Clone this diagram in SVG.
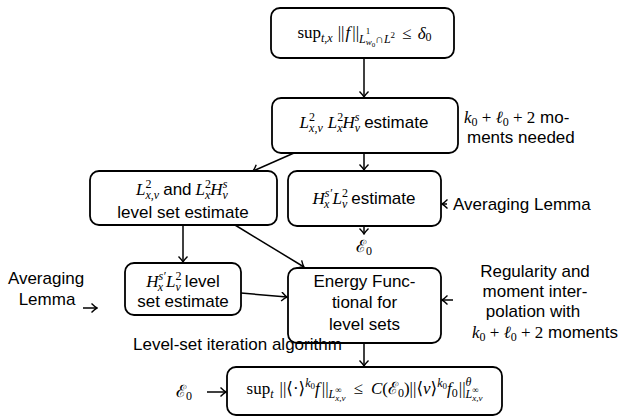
<svg xmlns="http://www.w3.org/2000/svg" width="624" height="420" viewBox="0 0 624 420">
<style>
.box{fill:#fff;stroke:#000;stroke-width:1.8}
.c{fill:none;stroke:#000;stroke-width:1.5}
.m{font-family:"Liberation Serif","DejaVu Serif",serif;font-size:17px;fill:#000}
.t{font-family:"Liberation Sans",Arial,sans-serif;font-size:17px;fill:#000}
.i{font-style:italic}
.s{font-size:12px}
.ss{font-size:9px}
</style>
<defs>
<marker id="ah" viewBox="-7 -5 8 10" markerWidth="8" markerHeight="10" refX="0" refY="0" orient="auto" markerUnits="userSpaceOnUse">
<path d="M-5.5,-4.5 Q-2,-1 0,0 Q-2,1 -5.5,4.5" fill="none" stroke="#000" stroke-width="1.4"/>
</marker>
</defs>
<g id="connectors">
<line class="c" x1="364" y1="58" x2="364" y2="97" marker-end="url(#ah)"/>
<line class="c" x1="364" y1="153" x2="364" y2="170" marker-end="url(#ah)"/>
<line class="c" x1="294" y1="153" x2="253" y2="171" marker-end="url(#ah)"/>
<line class="c" x1="364" y1="226" x2="364" y2="234" marker-end="url(#ah)"/>
<line class="c" x1="447" y1="204" x2="442" y2="204" marker-end="url(#ah)"/>
<line class="c" x1="183" y1="225" x2="183" y2="262" marker-end="url(#ah)"/>
<line class="c" x1="235" y1="225" x2="304" y2="267" marker-end="url(#ah)"/>
<line class="c" x1="241" y1="293" x2="287" y2="297" marker-end="url(#ah)"/>
<line class="c" x1="83" y1="308" x2="97" y2="308" marker-end="url(#ah)"/>
<line class="c" x1="453" y1="300" x2="442" y2="300" marker-end="url(#ah)"/>
<line class="c" x1="364" y1="343" x2="364" y2="366" marker-end="url(#ah)"/>
<line class="c" x1="207" y1="392" x2="226" y2="392" marker-end="url(#ah)"/>
</g>
<g id="n1">
<rect class="box" x="271" y="8" width="183" height="50" rx="9"/>
<text class="m" x="364.5" y="38" text-anchor="middle">sup<tspan class="s i" dy="4">t,x</tspan><tspan dx="5" dy="-4">||</tspan><tspan class="i" dx="1">f</tspan><tspan dx="2">||</tspan><tspan class="s i" dy="5">L</tspan><tspan class="ss" dy="-9">1</tspan><tspan class="ss i" dx="-4.5" dy="11">w</tspan><tspan style="font-size:7px" dy="2">0</tspan><tspan class="s" dy="-4">∩</tspan><tspan class="s i">L</tspan><tspan class="ss" dy="-5">2</tspan><tspan dx="7" dy="1">≤ </tspan><tspan class="i" dx="2">δ</tspan><tspan class="s" dy="2">0</tspan></text>
</g>
<g id="n2">
<rect class="box" x="272" y="98" width="186" height="55" rx="9"/>
<text class="m" x="364" y="128" text-anchor="middle"><tspan class="i">L</tspan><tspan class="s" dy="-7">2</tspan><tspan class="s i" dx="-6" dy="11">x,v</tspan><tspan class="i" dx="5" dy="-4">L</tspan><tspan class="s" dy="-7">2</tspan><tspan class="s i" dx="-6" dy="11">x</tspan><tspan class="i" dy="-4">H</tspan><tspan class="s i" dy="-7">s</tspan><tspan class="s i" dx="-4.7" dy="11">v</tspan><tspan class="t" dx="4" dy="-4">estimate</tspan></text>
</g>
<g id="note1">
<text class="m" x="464" y="123"><tspan class="i">k</tspan><tspan class="s" dy="3">0</tspan><tspan dy="-3"> + </tspan><tspan class="i">ℓ</tspan><tspan class="s" dy="3">0</tspan><tspan dy="-3"> + 2</tspan><tspan class="t"> mo-</tspan></text>
<text class="t" x="467" y="143">ments needed</text>
</g>
<g id="n3">
<rect class="box" x="90" y="171" width="187" height="54" rx="9"/>
<text class="m" x="182" y="195" text-anchor="middle"><tspan class="i">L</tspan><tspan class="s" dy="-7">2</tspan><tspan class="s i" dx="-6" dy="11">x,v</tspan><tspan class="t" dx="4" dy="-4">and</tspan><tspan class="i" dx="4">L</tspan><tspan class="s" dy="-7">2</tspan><tspan class="s i" dx="-6" dy="11">x</tspan><tspan class="i" dy="-4">H</tspan><tspan class="s i" dy="-7">s</tspan><tspan class="s i" dx="-4.7" dy="11">v</tspan></text>
<text class="t" x="183" y="218" text-anchor="middle">level set estimate</text>
</g>
<g id="n4">
<rect class="box" x="288" y="171" width="153" height="55" rx="9"/>
<text class="m" x="364" y="204" text-anchor="middle"><tspan class="i">H</tspan><tspan class="s i" dy="-7">s′</tspan><tspan class="s i" dx="-8" dy="11">x</tspan><tspan class="i" dx="3" dy="-4">L</tspan><tspan class="s" dy="-7">2</tspan><tspan class="s i" dx="-6" dy="11">v</tspan><tspan class="t" dx="4" dy="-4">estimate</tspan></text>
</g>
<g id="note2">
<text class="t" x="453" y="210">Averaging Lemma</text>
</g>
<g id="e1">
<text class="m" x="364" y="252" text-anchor="middle">ℰ<tspan class="s" dy="3">0</tspan></text>
</g>
<g id="n5">
<rect class="box" x="125" y="263" width="116" height="52" rx="9"/>
<text class="m" x="183" y="287" text-anchor="middle"><tspan class="i">H</tspan><tspan class="s i" dy="-7">s′</tspan><tspan class="s i" dx="-8" dy="11">x</tspan><tspan class="i" dx="3" dy="-4">L</tspan><tspan class="s" dy="-7">2</tspan><tspan class="s i" dx="-6" dy="11">v</tspan><tspan class="t" dx="4" dy="-4">level</tspan></text>
<text class="t" x="183" y="307" text-anchor="middle">set estimate</text>
</g>
<g id="note3">
<text class="t" x="46" y="284" text-anchor="middle">Averaging</text>
<text class="t" x="47" y="305" text-anchor="middle">Lemma</text>
</g>
<g id="n6">
<rect class="box" x="288" y="268" width="153" height="75" rx="9"/>
<text class="t" x="364.5" y="287" text-anchor="middle">Energy Func-</text>
<text class="t" x="364.5" y="308" text-anchor="middle">tional for</text>
<text class="t" x="364.5" y="330" text-anchor="middle">level sets</text>
</g>
<g id="note4">
<text class="t" x="535" y="277" text-anchor="middle">Regularity and</text>
<text class="t" x="535" y="297" text-anchor="middle">moment inter-</text>
<text class="t" x="533" y="317" text-anchor="middle">polation with</text>
<text class="m" x="472" y="338"><tspan class="i">k</tspan><tspan class="s" dy="3">0</tspan><tspan dy="-3"> + </tspan><tspan class="i">ℓ</tspan><tspan class="s" dy="3">0</tspan><tspan dy="-3"> + 2</tspan><tspan class="t"> moments</tspan></text>
</g>
<g id="note5">
<text class="t" x="133" y="350">Level-set iteration algorithm</text>
</g>
<g id="e2">
<text class="m" x="184" y="397" text-anchor="middle">ℰ<tspan class="s" dy="3">0</tspan></text>
</g>
<g id="n7">
<rect class="box" x="227" y="367" width="275" height="48" rx="9"/>
<text class="m" x="364.5" y="394" text-anchor="middle">sup<tspan class="s i" dy="4">t</tspan><tspan dx="6" dy="-4">||⟨·⟩</tspan><tspan class="s i" dy="-7">k</tspan><tspan class="ss" dy="2">0</tspan><tspan class="i" dy="5">f</tspan><tspan dx="2">||</tspan><tspan class="s i" dy="4">L</tspan><tspan class="ss" dy="-5">∞</tspan><tspan class="ss i" dx="-6.4" dy="8">x,v</tspan><tspan dx="8" dy="-7">≤</tspan><tspan class="i" dx="8">C</tspan>(ℰ<tspan class="s" dy="3">0</tspan><tspan dy="-3">)||⟨</tspan><tspan class="i">v</tspan>⟩<tspan class="s i" dy="-7">k</tspan><tspan class="ss" dy="2">0</tspan><tspan class="i" dy="5">f</tspan><tspan class="s" dy="3">0</tspan><tspan dx="1" dy="-3">||</tspan><tspan class="s i" dy="-8">θ</tspan><tspan class="s i" dx="-6" dy="12">L</tspan><tspan class="ss" dy="-5">∞</tspan><tspan class="ss i" dx="-6.4" dy="8">x,v</tspan></text>
</g>
</svg>
